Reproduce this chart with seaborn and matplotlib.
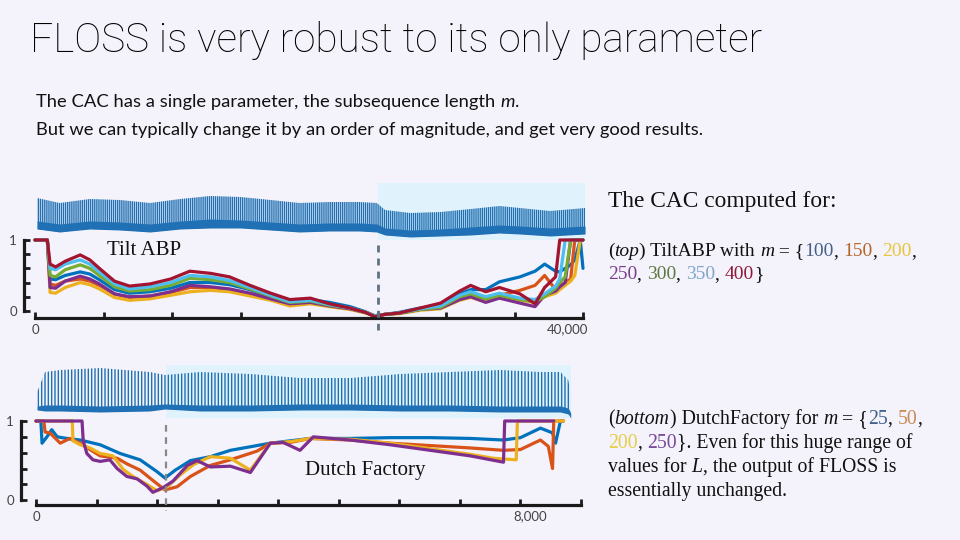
import numpy as np
import pandas as pd
import matplotlib
matplotlib.use("Agg")
import matplotlib.pyplot as plt
import matplotlib.transforms as mtrans
import seaborn as sns

# ---- data ----
# top panel: Tilt ABP, CAC for several subsequence lengths m
tilt_x = [0, 900, 1100, 1500, 2200, 3300, 4000, 4700, 5800, 6900, 8400, 9900, 11300, 12800,
          14200, 15700, 17200, 18600, 20100, 21500, 23000, 24100, 24800, 25500, 26600, 28100,
          29600, 31000, 31800, 32900, 33900, 35400, 36500, 37200, 38000, 38300, 38700, 39100,
          39400, 39800, 40000]
tilt_m100 = [1, 1, 0.45, 0.44, 0.50, 0.55, 0.52, 0.44, 0.30, 0.25, 0.27, 0.32, 0.40, 0.40, 0.37,
             0.30, 0.20, 0.13, 0.16, 0.12, 0.06, -0.01, -0.07, -0.05, -0.02, 0.04, 0.08, 0.24,
             0.30, 0.30, 0.41, 0.48, 0.56, 0.66, 0.56, 0.55, 0.60, 0.65, 0.72, 1, 0.60]
tilt_m150 = [1, 1, 0.38, 0.36, 0.42, 0.45, 0.42, 0.36, 0.24, 0.19, 0.21, 0.26, 0.33, 0.33, 0.30,
             0.24, 0.17, 0.10, 0.12, 0.08, 0.03, -0.02, -0.07, -0.05, -0.03, 0.02, 0.04, 0.17,
             0.22, 0.14, 0.22, 0.29, 0.36, 0.50, 0.30, 0.35, 0.40, 0.45, 1, 1, 1]
tilt_m200 = [1, 1, 0.26, 0.25, 0.33, 0.40, 0.37, 0.31, 0.19, 0.15, 0.17, 0.22, 0.27, 0.29, 0.27,
             0.21, 0.15, 0.07, 0.10, 0.06, 0.02, -0.03, -0.07, -0.05, -0.04, 0.01, 0.03, 0.15,
             0.19, 0.13, 0.20, 0.15, 0.12, 0.20, 0.25, 0.30, 0.36, 0.42, 0.50, 1, 1]
tilt_m250 = [1, 1, 0.33, 0.32, 0.42, 0.49, 0.45, 0.38, 0.24, 0.20, 0.21, 0.27, 0.36, 0.34, 0.31,
             0.25, 0.17, 0.10, 0.12, 0.07, 0.03, -0.02, -0.07, -0.05, -0.03, 0.02, 0.04, 0.16,
             0.20, 0.12, 0.18, 0.11, 0.06, 0.22, 0.28, 0.34, 0.40, 1, 1, 1, 1]
tilt_m300 = [1, 1, 0.50, 0.48, 0.58, 0.65, 0.60, 0.50, 0.34, 0.28, 0.30, 0.36, 0.46, 0.44, 0.40,
             0.31, 0.21, 0.12, 0.14, 0.08, 0.04, -0.02, -0.07, -0.05, -0.03, 0.02, 0.05, 0.20,
             0.24, 0.17, 0.22, 0.16, 0.13, 0.20, 0.32, 0.40, 0.48, 1, 1, 1, 1]
tilt_m350 = [1, 1, 0.60, 0.58, 0.66, 0.72, 0.66, 0.55, 0.38, 0.31, 0.34, 0.40, 0.50, 0.48, 0.43,
             0.33, 0.22, 0.13, 0.15, 0.09, 0.04, -0.02, -0.07, -0.05, -0.03, 0.03, 0.07, 0.22,
             0.27, 0.20, 0.25, 0.18, 0.16, 0.24, 0.35, 0.45, 1, 1, 1, 1, 1]
tilt_m400 = [1, 1, 0.66, 0.62, 0.70, 0.79, 0.72, 0.60, 0.42, 0.35, 0.38, 0.45, 0.56, 0.53, 0.48,
             0.36, 0.25, 0.16, 0.18, 0.10, 0.04, -0.02, -0.08, -0.05, -0.03, 0.04, 0.11, 0.28,
             0.36, 0.27, 0.33, 0.24, 0.10, 0.33, 0.48, 1, 1, 1, 1, 1, 1]
tilt_split = 25000

# top raw signal envelope (pixel-height units above the strip bottom)
abp_x = [150, 1800, 4000, 6200, 8400, 10600, 12800, 15000, 17200, 19300, 21500, 23700, 24950,
         25550, 27400, 29600, 31800, 33900, 35400, 37600, 40150]
abp_upper = [42, 37, 41, 40, 37, 41, 44, 43, 40, 37, 38, 38, 37, 30, 27, 28, 31, 34, 32, 29, 32]
abp_dense = [19, 16, 19, 18, 16, 19, 21, 20, 18, 16, 17, 17, 16, 12, 10, 11, 13, 15, 14, 12, 14]
abp_lower = [11, 8, 11, 10, 8, 11, 12, 12, 10, 8, 9, 9, 8, 5, 3, 4, 5, 7, 6, 4, 6]

# bottom panel: Dutch Factory
dutch_m25_x = [0, 80, 100, 180, 260, 350, 510, 730, 1060, 1390, 1720, 2000, 2130, 2300, 2550,
               2880, 3210, 3870, 4530, 5190, 5850, 6510, 7170, 7720, 8000, 8330, 8530, 8580,
               8660, 8710]
dutch_m25 = [1, 1, 0.72, 0.80, 0.89, 0.80, 0.78, 0.76, 0.70, 0.59, 0.51, 0.36, 0.28, 0.38, 0.50,
             0.55, 0.63, 0.72, 0.78, 0.78, 0.79, 0.79, 0.78, 0.76, 0.79, 0.91, 0.85, 0.72, 1, 1]
dutch_m50_x = [0, 130, 150, 230, 400, 560, 730, 890, 1060, 1340, 1500, 1720, 1930, 2130, 2330,
               2550, 2880, 3210, 3650, 3870, 4200, 4530, 5190, 5850, 6510, 7170, 7720, 8000,
               8330, 8460, 8530, 8550, 8710]
dutch_m50 = [1, 1, 0.86, 0.85, 0.72, 0.78, 0.72, 0.64, 0.56, 0.53, 0.46, 0.38, 0.25, 0.13, 0.17,
             0.30, 0.44, 0.51, 0.62, 0.72, 0.73, 0.78, 0.76, 0.72, 0.69, 0.66, 0.63, 0.64, 0.76,
             0.68, 0.40, 1, 1]
dutch_m200_x = [0, 600, 610, 730, 890, 1060, 1270, 1440, 1600, 1830, 2000, 2170, 2380, 2600,
                2880, 3210, 3540, 3870, 4200, 4530, 5190, 5850, 6510, 7170, 7550, 7930, 7950, 8710]
dutch_m200 = [1, 1, 0.75, 0.70, 0.66, 0.59, 0.56, 0.39, 0.30, 0.20, 0.12, 0.17, 0.32, 0.45, 0.55,
              0.53, 0.38, 0.72, 0.74, 0.78, 0.77, 0.72, 0.65, 0.58, 0.53, 0.51, 1, 1]
dutch_m250_x = [0, 760, 780, 840, 940, 1060, 1220, 1340, 1500, 1670, 1830, 1930, 2100, 2260,
                2500, 2660, 2880, 3210, 3540, 3870, 4080, 4360, 4580, 5190, 5850, 6510, 7170,
                7720, 7740, 8550]
dutch_m250 = [1, 1, 0.75, 0.59, 0.51, 0.49, 0.51, 0.40, 0.30, 0.27, 0.18, 0.10, 0.16, 0.24, 0.44,
              0.50, 0.42, 0.43, 0.35, 0.72, 0.73, 0.63, 0.80, 0.76, 0.70, 0.63, 0.56, 0.48, 1, 1]
dutch_split = 2150
dutch_sig_end = 8830

dutch_sig_x = [20, 150, 400, 1060, 1880, 2130, 2710, 3540, 4360, 5190, 6020, 6840, 7670, 8330,
               8660, 8790, 8830]
dutch_upper = [26, 46, 48, 50, 46, 43, 46, 44, 40, 40, 44, 46, 48, 46, 46, 38, 23]
dutch_dense = [12, 13, 13, 12, 13, 14, 13, 13, 14, 14, 13, 13, 12, 12, 12, 10, 5]
dutch_lower = [8, 7, 7, 6, 7, 9, 7, 7, 8, 8, 7, 7, 6, 6, 6, 4, 0]

# ---- style ----
W, H = 960, 540
BG = "#f4f2fa"
HL = "#e0f3fc"
SIG = "#1f70b4"
INK = "#1a1a1a"
matlab = {"100": "#0072BD", "150": "#D95319", "200": "#EDB120", "250": "#7E2F8E",
          "300": "#77AC30", "350": "#4DBEEE", "400": "#A2142F",
          "25": "#0072BD", "50": "#D95319"}

sns.set_style("white")
plt.rcParams["font.family"] = ["Lato", "DejaVu Sans"]
plt.rcParams["hatch.linewidth"] = 1.0

fig = plt.figure(figsize=(9.6, 5.4), dpi=100)
fig.patch.set_facecolor(BG)


def rect(left, top, right, bottom):
    return [left / W, 1 - bottom / H, (right - left) / W, (bottom - top) / H]


def style_cac(ax, xmax, step, lo):
    ax.set_facecolor("none")
    ax.set_xlim(0, xmax)
    ax.set_ylim(lo, 1)
    for s in ["top", "right"]:
        ax.spines[s].set_visible(False)
    for s in ["left", "bottom"]:
        ax.spines[s].set_linewidth(2.3)
        ax.spines[s].set_color(INK)
    ax.spines["left"].set_bounds(0, 1)
    ax.set_yticks([0, 0.2, 0.4, 0.6, 0.8, 1.0])
    ax.set_yticklabels(["0", "", "", "", "", "1"])
    ax.set_xticks(np.arange(0, xmax + 1, step))
    ax.tick_params(axis="both", direction="in", length=4.5, width=2, color=INK,
                   labelsize=9.5, labelcolor="#444444", bottom=True, left=True)
    ax.tick_params(axis="x", pad=4)
    ax.tick_params(axis="y", pad=5)
    ax.set_xlabel("")
    ax.set_ylabel("")


def draw_signal(ax, x, lower, dense, upper, hatch):
    ax.fill_between(x, lower, dense, color=SIG, lw=0, zorder=3, clip_on=False)
    ax.fill_between(x, lower, upper, facecolor="none", edgecolor=SIG, hatch=hatch,
                    lw=0, zorder=3, clip_on=False)


# ---- top panel ----
ax_sig1 = fig.add_axes(rect(35, 183, 583, 240))
ax_sig1.set_xlim(0, 40000)
ax_sig1.set_ylim(0, 57)
ax_sig1.axis("off")
ax_sig1.axvspan(tilt_split, 40150, color=HL, lw=0, zorder=1, clip_on=False)
draw_signal(ax_sig1, abp_x, abp_lower, abp_dense, abp_upper, "||||||||")

ax1 = fig.add_axes(rect(35, 240, 583, 318))
ax1.spines["left"].set_position(("outward", 8))
tilt = pd.concat([pd.DataFrame({"x": tilt_x, "cac": v, "m": m}) for m, v in
                  [("100", tilt_m100), ("150", tilt_m150), ("200", tilt_m200),
                   ("250", tilt_m250), ("300", tilt_m300), ("350", tilt_m350),
                   ("400", tilt_m400)]])
sns.lineplot(data=tilt, x="x", y="cac", hue="m", palette=matlab, estimator=None, sort=False,
             lw=2.3, legend=False, ax=ax1, clip_on=False)
style_cac(ax1, 40000, 5000, -0.1)
ax1.set_xticklabels(["0", "", "", "", "", "", "", "", "40,000"])
ax1.plot([tilt_split, tilt_split], [0.93, -0.27], color="#5f7184", lw=2,
         ls=(0, (2.5, 2.2)), clip_on=False, zorder=5)

# ---- bottom panel ----
ax_sig2 = fig.add_axes(rect(36, 365, 581, 418))
ax_sig2.set_xlim(0, 9000)
ax_sig2.set_ylim(0, 53)
ax_sig2.axis("off")
ax_sig2.axvspan(dutch_split, dutch_sig_end, color=HL, lw=0, zorder=1)
draw_signal(ax_sig2, dutch_sig_x, dutch_lower, dutch_dense, dutch_upper, "|||||")

ax2 = fig.add_axes(rect(36, 421, 581, 505))
ax2.spines["left"].set_position(("outward", 11))
dutch = pd.concat([pd.DataFrame({"x": x, "cac": v, "m": m}) for m, x, v in
                   [("25", dutch_m25_x, dutch_m25), ("50", dutch_m50_x, dutch_m50),
                    ("200", dutch_m200_x, dutch_m200), ("250", dutch_m250_x, dutch_m250)]])
sns.lineplot(data=dutch, x="x", y="cac", hue="m", palette=matlab, estimator=None, sort=False,
             lw=2.3, legend=False, ax=ax2, clip_on=False)
style_cac(ax2, 9000, 1000, -0.06)
ax2.set_xticklabels(["0", "", "", "", "", "", "", "", "8,000", ""])
ax2.plot([dutch_split, dutch_split], [0.95, -0.14], color="#888888", lw=1.6,
         ls=(0, (3, 2.5)), clip_on=False, zorder=5)

# nudge the end labels like on the slide
for lab, dx in [(ax1.get_xticklabels()[-1], -15), (ax2.get_xticklabels()[-2], 10)]:
    lab.set_transform(lab.get_transform() + mtrans.ScaledTranslation(dx / 100, 0, fig.dpi_scale_trans))

# ---- text ----
SERIF = ["Liberation Serif", "DejaVu Serif"]
renderer = fig.canvas.get_renderer()


def measure(s, **kw):
    t = fig.text(0, 0, s, **kw)
    w = t.get_window_extent(renderer).width
    t.remove()
    return w


def rich(x, y, pieces, size, family):
    for s, c, st in pieces:
        kw = dict(fontsize=size, family=family, style=st)
        fig.text(x / W, 1 - y / H, s, color=c, va="baseline", ha="left", **kw)
        x += measure(s + "|", **kw) - measure("|", **kw)


K = "#111111"
fig.text(30 / W, 1 - 41 / H, "FLOSS is very robust to its only parameter", fontsize=29.2,
         family=["Roboto", "Lato", "DejaVu Sans"], weight="light", va="center", ha="left",
         color="#000000")
rich(36, 107, [("The CAC has a single parameter, the subsequence length ", K, "normal"),
               ("m", K, "italic"), (".", K, "normal")], 13.2, ["Lato"])
rich(36, 135, [("But we can typically change it by an order of magnitude, and get very good results.",
                K, "normal")], 13.2, ["Lato"])

fig.text(107 / W, 1 - 250 / H, "Tilt ABP", fontsize=15, family=SERIF, va="center", color=K)
fig.text(305 / W, 1 - 470 / H, "Dutch Factory", fontsize=15, family=SERIF, va="center", color=K)

fig.text(608 / W, 1 - 202 / H, "The CAC computed for:", fontsize=16.8, family=SERIF, va="center",
         color=K)
rich(608, 256, [("(", K, "normal"), ("top", K, "italic"), (") TiltABP with ", K, "normal"),
                ("m", K, "italic"), (" = {", K, "normal"), ("100", "#44618c", "normal"),
                (", ", K, "normal"), ("150", "#b7662a", "normal"), (", ", K, "normal"),
                ("200", "#e6c63c", "normal"), (",", K, "normal")], 14, SERIF)
rich(608, 279, [("250", "#7a3e8a", "normal"), (", ", K, "normal"), ("300", "#5d7a45", "normal"),
                (", ", K, "normal"), ("350", "#7fa6c9", "normal"), (", ", K, "normal"),
                ("400", "#8e1838", "normal"), ("}", K, "normal")], 14, SERIF)

rich(608, 424, [("(", K, "normal"), ("bottom", K, "italic"), (") DutchFactory for ", K, "normal"),
                ("m", K, "italic"), (" = {", K, "normal"), ("25", "#44618c", "normal"),
                (", ", K, "normal"), ("50", "#c98b55", "normal"), (",", K, "normal")], 14.2, SERIF)
rich(608, 448, [("200", "#e6cf4a", "normal"), (", ", K, "normal"), ("250", "#7a4a9a", "normal"),
                ("}. Even for this huge range of", K, "normal")], 14.2, SERIF)
rich(608, 472, [("values for ", K, "normal"), ("L", K, "italic"),
                (", the output of FLOSS is", K, "normal")], 14.2, SERIF)
rich(608, 496, [("essentially unchanged.", K, "normal")], 14.2, SERIF)

fig.savefig("out.png", dpi=100, facecolor=BG)
